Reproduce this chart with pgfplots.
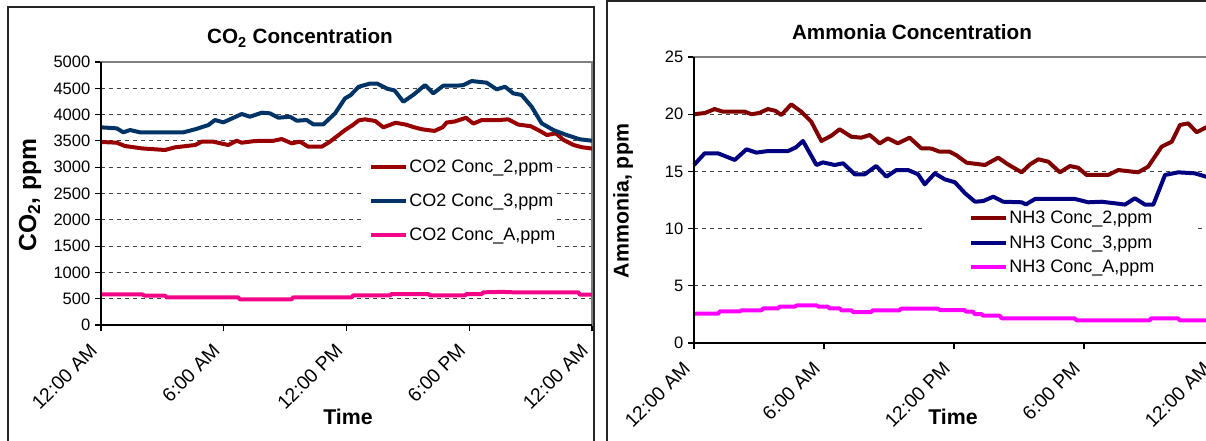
\documentclass[border=0pt]{standalone}
\usepackage{fontspec}
\setmainfont{Liberation Sans}
\usepackage{pgfplots}
\pgfplotsset{compat=1.18}
\definecolor{cored}{HTML}{990000}
\definecolor{coblue}{HTML}{003366}
\definecolor{copink}{HTML}{F20587}
\definecolor{nhred}{HTML}{800000}
\definecolor{nhblue}{HTML}{000080}
\definecolor{nhpink}{HTML}{FF00FF}
\newcommand\tickfont{\fontsize{12.4pt}{14pt}\selectfont}
\newcommand\xtickfont{\fontsize{14.5pt}{16pt}\selectfont}
\newcommand\legfont{\fontsize{13.5pt}{16pt}\selectfont}
\pgfplotsset{
  xlchart/.style={
    scale only axis, anchor=south west, clip=false,
    xmin=0, xmax=24,
    xtick={0,6,12,18,24},
    xticklabels={12:00 AM,6:00 AM,12:00 PM,6:00 PM,12:00 AM},
    tick pos=left, tick align=outside,
    major tick length=4.5pt,
    tick style={black, line width=0.8pt},
    axis line style={draw=black!50, line width=1pt},
    ymajorgrids,
    major grid style={black!75, line width=0.75pt, dash pattern=on 3pt off 3pt},
    scaled y ticks=false,
    /pgf/number format/assume math mode=true,
    /pgf/number format/1000 sep={},
    yticklabel style={font=\tickfont},
    xticklabel style={font=\xtickfont, xshift=-3pt, yshift=-10pt, rotate=45, anchor=east},
    legend cell align=left,
    legend image code/.code={\draw[#1] (0pt,0pt) -- (26pt,0pt);},
    every axis plot/.append style={line width=3pt, line join=round},
  }
}
\begin{document}
\begin{tikzpicture}[x=0.75pt,y=0.75pt]
\useasboundingbox (0,0) rectangle (1206,440);
\clip (0,0) rectangle (1206,440);
% frames
\draw[black!85, line width=1.1pt] (8,433) rectangle (594,-10);
\draw[black!85, line width=1.1pt] (607,439) rectangle (1220,-10);

% ---------- CO2 ----------
\begin{axis}[xlchart,
  at={(75.75pt,86.25pt)}, width=368.25pt, height=197.25pt,
  ymin=0, ymax=5000, ytick={0,500,...,5000},
  legend style={at={(0.546,0.630)}, anchor=north west, draw=none, fill=none,
    inner sep=0pt, row sep=14.6pt, font=\legfont, column sep=1pt,
    nodes={inner sep=0pt}},
]
\fill[white] (rel axis cs:0.532,0.266) rectangle (rel axis cs:0.929,0.665);
\addplot[cored] coordinates {
(0,3480) (0.77,3466) (1.17,3403) (1.99,3358) (3.13,3327) (3.62,3378) (4.6,3422)
(4.92,3485) (5.49,3485) (6.22,3422) (6.63,3504) (6.88,3466) (7.53,3498) (8.4,3500)
(8.83,3536) (9.32,3454) (9.73,3485) (10.13,3390) (10.79,3390) (11.19,3485) (11.93,3707)
(12.3,3800) (12.6,3890) (12.9,3910) (13.4,3880) (13.8,3758) (14.4,3845) (14.9,3810)
(15.3,3760) (15.7,3720) (16.3,3690) (16.7,3760) (16.9,3850) (17.3,3870) (17.84,3940)
(18.2,3830) (18.6,3895) (19.4,3895) (19.9,3910) (20.4,3810) (21.0,3780) (21.4,3700)
(21.8,3612) (22.24,3644) (22.6,3520) (23.1,3422) (23.5,3380) (24,3355)
};
\addlegendentry{CO2 Conc\_2,ppm}
\addplot[coblue] coordinates {
(0,3758) (0.77,3739) (1.09,3663) (1.42,3707) (1.91,3663) (4.02,3663) (4.6,3720)
(5.25,3802) (5.57,3897) (5.98,3853) (6.88,4011) (7.28,3960) (7.86,4036) (8.26,4024)
(8.67,3941) (9.24,3960) (9.57,3884) (10.05,3897) (10.38,3815) (10.87,3815) (11.44,4024)
(11.93,4309) (12.2,4370) (12.6,4530) (13.15,4590) (13.5,4590) (14.0,4490) (14.35,4460)
(14.78,4245) (15.3,4385) (15.84,4562) (16.24,4404) (16.73,4550) (17.39,4550) (17.7,4560)
(18.12,4638) (18.85,4607) (19.34,4480) (19.75,4530) (20.15,4404) (20.56,4373) (21.05,4150)
(21.54,3834) (22.11,3707) (22.76,3612) (23.41,3530) (24,3504)
};
\addlegendentry{CO2 Conc\_3,ppm}
\addplot[copink] coordinates {
(0,583) (2.0,583) (2.15,557) (3.13,557) (3.21,526) (6.71,526) (6.79,488) (9.32,488)
(9.40,526) (12.25,526) (12.33,564) (14.13,564) (14.21,589) (16.0,589) (16.08,564)
(17.79,564) (17.87,589) (18.61,589) (18.69,621) (19.6,630) (20.2,621) (23.33,621)
(23.41,576) (24,576)
};
\addlegendentry{CO2 Conc\_A,ppm}
\draw[black, line width=1.1pt] (rel axis cs:0,1) -- (rel axis cs:0,0) -- (rel axis cs:1,0);
\end{axis}

% ---------- NH3 ----------
\begin{axis}[xlchart,
  at={(520.5pt,72.75pt)}, width=390pt, height=214.5pt,
  ymin=0, ymax=25, ytick={0,5,...,25},
  legend style={at={(0.529,0.462)}, anchor=north west, draw=none, fill=none,
    inner sep=0pt, row sep=7.4pt, font=\legfont, column sep=1pt,
    nodes={inner sep=0pt}},
]
\fill[white] (rel axis cs:0.438,0.220) rectangle (rel axis cs:0.967,0.5);
\addplot[nhred] coordinates {
(0,20.0) (0.5,20.1) (0.95,20.45) (1.34,20.22) (2.34,20.22) (2.65,20.0) (3.0,20.1)
(3.41,20.45) (3.75,20.3) (4.03,19.93) (4.49,20.86) (4.95,20.22) (5.41,19.35) (5.88,17.66)
(6.34,18.12) (6.72,18.68) (7.26,18.03) (7.72,17.95) (8.11,18.18) (8.57,17.45) (8.95,17.89)
(9.41,17.45) (9.95,17.95) (10.49,17.02) (10.95,17.0) (11.34,16.72) (11.8,16.72) (12.12,16.4)
(12.58,15.76) (13.43,15.56) (14.04,16.2) (14.5,15.6) (15.12,14.92) (15.5,15.6) (15.89,16.06)
(16.35,15.85) (16.89,14.92) (17.35,15.47) (17.73,15.32) (18.12,14.69) (19.12,14.69)
(19.58,15.12) (20.5,14.92) (20.96,15.41) (21.58,17.16) (22.05,17.6) (22.43,19.06)
(22.81,19.2) (23.2,18.42) (23.63,18.85) (24,19.0)
};
\addlegendentry{NH3 Conc\_2,ppm}
\addplot[nhblue] coordinates {
(0,15.56) (0.49,16.58) (1.11,16.58) (1.88,16.0) (2.42,16.93) (2.88,16.64) (3.41,16.78)
(4.34,16.78) (4.7,17.1) (5.03,17.66) (5.65,15.56) (5.95,15.79) (6.49,15.56) (6.88,15.71)
(7.42,14.75) (7.88,14.75) (8.41,15.47) (8.88,14.54) (9.34,15.12) (9.88,15.12) (10.34,14.75)
(10.65,13.87) (11.11,14.83) (11.58,14.3) (12.04,14.05) (12.51,13.09) (12.97,12.35)
(13.35,12.41) (13.81,12.79) (14.27,12.35) (15.12,12.3) (15.32,12.12) (15.74,12.59)
(17.58,12.59) (18.2,12.3) (18.81,12.35) (19.43,12.21) (19.89,12.1) (20.35,12.65)
(20.81,12.1) (21.2,12.1) (21.74,14.69) (22.35,14.92) (23.12,14.83) (23.63,14.54) (24,14.5)
};
\addlegendentry{NH3 Conc\_3,ppm}
\addplot[nhpink] coordinates {
(0,2.56) (1.11,2.56) (1.2,2.77) (2.11,2.77) (2.2,2.86) (3.11,2.86) (3.2,3.03) (3.88,3.03)
(3.95,3.18) (4.65,3.18) (4.75,3.29) (5.65,3.29) (5.75,3.18) (6.18,3.18) (6.25,3.03)
(6.72,3.03) (6.8,2.86) (7.26,2.86) (7.35,2.71) (8.18,2.71) (8.25,2.86) (9.49,2.86)
(9.55,3.0) (11.26,3.0) (11.35,2.88) (12.49,2.88) (12.55,2.74) (12.88,2.74) (12.95,2.53)
(13.26,2.53) (13.35,2.39) (14.11,2.39) (14.2,2.16) (17.57,2.16) (17.65,1.98) (21.03,1.98)
(21.1,2.16) (22.34,2.16) (22.42,1.98) (24,1.98)
};
\addlegendentry{NH3 Conc\_A,ppm}
\draw[black, line width=1.1pt] (rel axis cs:0,1) -- (rel axis cs:0,0) -- (rel axis cs:1,0);
\end{axis}

% titles and labels
\node[font=\bfseries\fontsize{15.5pt}{18pt}\selectfont] at (300,402) {CO\textsubscript{2} Concentration};
\node[font=\bfseries\fontsize{15.5pt}{18pt}\selectfont] at (912,408) {Ammonia Concentration};
\node[font=\bfseries\fontsize{18.5pt}{21pt}\selectfont, rotate=90] at (30,245) {CO\textsubscript{2}, ppm};
\node[font=\bfseries\fontsize{16pt}{19pt}\selectfont, rotate=90] at (623,239) {Ammonia, ppm};
\node[font=\bfseries\fontsize{16pt}{19pt}\selectfont] at (348,23) {Time};
\node[font=\bfseries\fontsize{16pt}{19pt}\selectfont] at (953,23) {Time};
\end{tikzpicture}
\end{document}
